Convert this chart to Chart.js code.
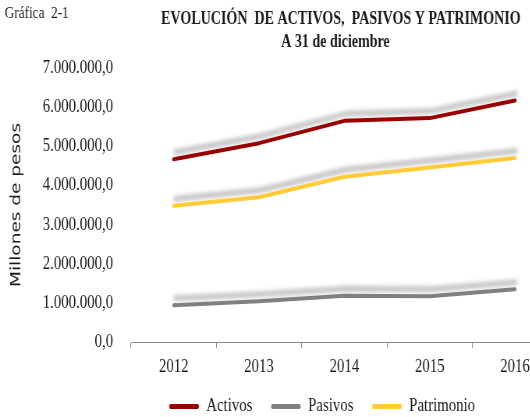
<!DOCTYPE html>
<html>
<head>
<meta charset="utf-8">
<script src="https://cdn.jsdelivr.net/npm/chart.js@4"></script>
<style>
  html, body { margin: 0; padding: 0; background: #fff; overflow: hidden; }
  #wrap { width: 530px; height: 417px; overflow: hidden; position: relative; }
  /* the original figure is squeezed sideways, so the canvas is drawn wide and compressed */
  #grafica { width: 826px; height: 417px; transform: scaleX(0.78); transform-origin: 0 0; }
</style>
</head>
<body>
<div id="wrap"><canvas id="grafica" width="826" height="417"></canvas></div>
<script>
var anios = ["2012", "2013", "2014", "2015", "2016"];
var activos = [4670000, 5080000, 5650000, 5720000, 6170000];
var pasivos = [940000, 1040000, 1180000, 1170000, 1350000];
var patrimonio = [3480000, 3700000, 4220000, 4460000, 4700000];
var titulo = ["EVOLUCIÓN  DE ACTIVOS,  PASIVOS Y PATRIMONIO", "A 31 de diciembre"];
var rotulo = "Gráfica  2-1";
var ejeY = "Millones de pesos";

var serif = "'Liberation Serif', 'Times New Roman', serif";
var negro = "#1a1a1a";

function miles(v) {
    // 7000000 -> "7.000.000,0"
    var s = Math.round(v).toString().replace(/\B(?=(\d{3})+(?!\d))/g, ".");
    return s + ",0";
}

var sombra = {
    id: "sombra",
    beforeDatasetDraw: function(chart) {
        var ctx = chart.ctx;
        ctx.save();
        ctx.shadowColor = "rgba(0,0,0,0.34)";
        ctx.shadowBlur = 5;
        ctx.shadowOffsetX = 1.5;
        ctx.shadowOffsetY = -7;
    },
    afterDatasetDraw: function(chart) {
        chart.ctx.restore();
    }
};

var rotulos = {
    id: "rotulos",
    afterDraw: function(chart) {
        var ctx = chart.ctx;
        ctx.save();
        ctx.fillStyle = negro;
        ctx.textBaseline = "alphabetic";
        ctx.textAlign = "left";
        ctx.font = "17px " + serif;
        ctx.fillText(rotulo, 6, 18);
        ctx.textAlign = "center";
        ctx.font = "bold 18px " + serif;
        ctx.fillText(titulo[0], 437, 24);
        ctx.fillText(titulo[1], 430, 47);
        ctx.restore();
    }
};

var ctx = document.getElementById("grafica").getContext("2d");
var chart = new Chart(ctx, {
    type: "line",
    data: {
        labels: anios,
        datasets: [
            { label: "Activos", data: activos, borderColor: "#990000", backgroundColor: "#990000" },
            { label: "Pasivos", data: pasivos, borderColor: "#808080", backgroundColor: "#808080" },
            { label: "Patrimonio", data: patrimonio, borderColor: "#FFCC33", backgroundColor: "#FFCC33" }
        ]
    },
    options: {
        responsive: false,
        animation: false,
        devicePixelRatio: 1,
        layout: { padding: { left: 0, right: 0, top: 68, bottom: 0 } },
        elements: {
            line: { borderWidth: 4, tension: 0, borderCapStyle: "round", borderJoinStyle: "round", fill: false },
            point: { radius: 0, hoverRadius: 0 }
        },
        plugins: {
            title: { display: false },
            tooltip: { enabled: false },
            legend: {
                position: "bottom",
                maxHeight: 44,
                labels: {
                    color: negro,
                    font: { family: serif, size: 19 },
                    boxWidth: 38,
                    boxHeight: 5,
                    padding: 24,
                    useBorderRadius: true,
                    borderRadius: 2,
                    generateLabels: function(c) {
                        return Chart.defaults.plugins.legend.labels.generateLabels(c).map(function(l) {
                            l.lineWidth = 0;
                            return l;
                        });
                    }
                }
            }
        },
        scales: {
            x: {
                offset: true,
                grid: { display: true, drawOnChartArea: false, drawTicks: true, tickLength: 6, offset: true, color: "#888" },
                border: { display: true, color: "#888", width: 1 },
                ticks: { color: negro, font: { family: serif, size: 19 }, padding: 8, maxRotation: 0 },
                afterFit: function(s) { s.height = 31; }
            },
            y: {
                min: 0,
                max: 7000000,
                grid: { display: false },
                border: { display: false },
                ticks: { stepSize: 1000000, color: negro, font: { family: serif, size: 19 }, padding: 15, callback: function(v) { return miles(v); } },
                title: { display: true, text: ejeY, color: negro, font: { family: "'DejaVu Sans', Verdana, sans-serif", size: 18.5 }, padding: { top: 10, bottom: 0 } },
                afterFit: function(s) { s.width = 168; }
            },
            // empty right margin: the plot runs off the cropped figure, the legend stays centred
            margen: {
                type: "linear",
                position: "right",
                display: true,
                grid: { display: false },
                border: { display: false },
                ticks: { display: false },
                afterFit: function(s) { s.width = 111; }
            }
        }
    },
    plugins: [sombra, rotulos]
});
</script>
</body>
</html>
